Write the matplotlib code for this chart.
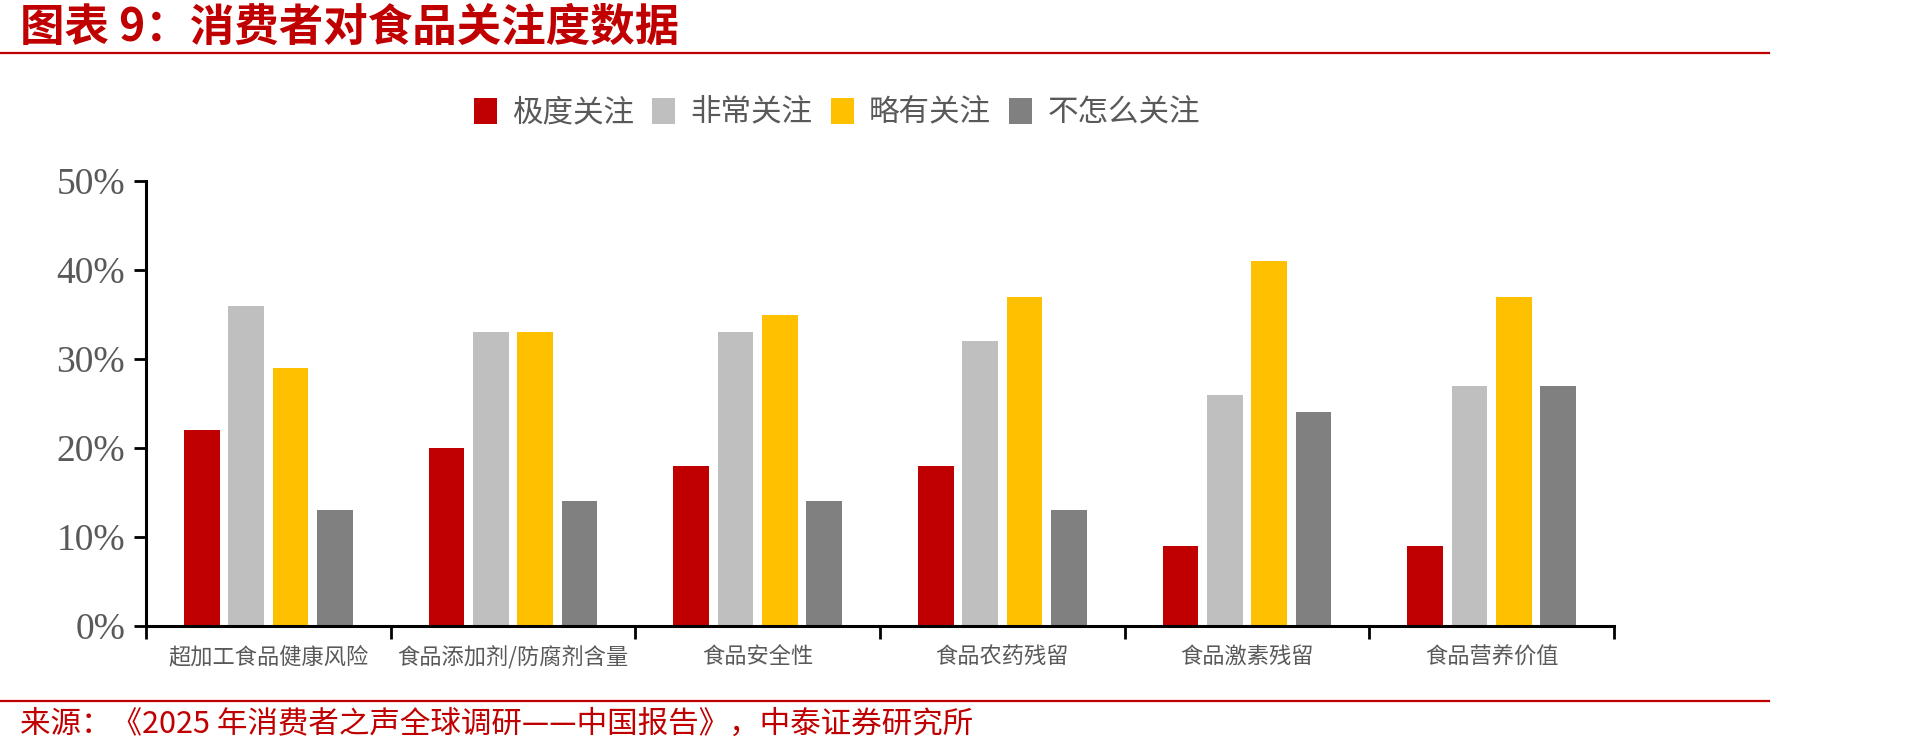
import numpy as np
import matplotlib
matplotlib.use('Agg')
from matplotlib import pyplot as plt
from matplotlib.lines import Line2D
from matplotlib.patches import Patch

plt.rcParams['font.family'] = ['Noto Sans CJK SC', 'DejaVu Sans']

categories = ['超加工食品健康风险', '食品添加剂/防腐剂含量', '食品安全性',
              '食品农药残留', '食品激素残留', '食品营养价值']
series_names = ['极度关注', '非常关注', '略有关注', '不怎么关注']
extreme = [22, 20, 18, 18, 9, 9]
very = [36, 33, 33, 32, 26, 27]
somewhat = [29, 33, 35, 37, 41, 37]
notmuch = [13, 14, 14, 13, 24, 27]
yticks = [0, 10, 20, 30, 40, 50]

colors = ['#C00000', '#BFBFBF', '#FFC000', '#808080']
red = '#C00000'
grey_text = '#595959'

fig = plt.figure(figsize=(19.26, 7.54), dpi=100)
ax = fig.add_axes([146 / 1926, 1 - 626 / 754, (1614 - 146) / 1926, (626 - 181) / 754])

x = np.arange(len(categories)) + 0.5
width = 0.146
pitch = 0.181
data = [extreme, very, somewhat, notmuch]
for i, (vals, c) in enumerate(zip(data, colors)):
    ax.bar(x + (i - 1.5) * pitch, vals, width=width, color=c)

ax.set_xlim(0, len(categories))
ax.set_ylim(0, 50)
ax.set_yticks(yticks)
ax.set_yticklabels([f'{v}%' for v in yticks], family='Liberation Serif',
                   fontsize=27, color=grey_text)
ax.set_xticks(np.arange(len(categories) + 1))
ax.set_xticklabels([])
ax.set_xticks(x, minor=True)
ax.set_xticklabels(categories, minor=True, fontsize=16, color=grey_text)
ax.tick_params(axis='x', which='minor', length=0, pad=14)
ax.tick_params(axis='both', which='major', length=9, width=2, color='black', direction='out')
ax.tick_params(axis='y', pad=6)

for s in ['top', 'right']:
    ax.spines[s].set_visible(False)
for s in ['left', 'bottom']:
    ax.spines[s].set_linewidth(2.2)
    ax.spines[s].set_color('black')

handles = [Patch(facecolor=c, edgecolor='none') for c in colors]
fig.legend(handles, series_names, loc='center', bbox_to_anchor=(0.4345, 0.850), ncol=4,
           frameon=False, fontsize=22, labelcolor=grey_text, handlelength=0.75,
           handleheight=0.9, handletextpad=0.5, columnspacing=0.6)

# title and source
fig.text(20 / 1926, 1 - 28 / 754, '图表 9：消费者对食品关注度数据', fontsize=32,
         fontweight='bold', color=red, va='center', ha='left', style='italic')
fig.add_artist(Line2D([0, 1769 / 1926], [1 - 53 / 754] * 2, color=red, lw=1.6,
                      transform=fig.transFigure))
fig.add_artist(Line2D([0, 1769 / 1926], [1 - 701 / 754] * 2, color=red, lw=1.6,
                      transform=fig.transFigure))
fig.text(20 / 1926, 1 - 724 / 754, '来源：《2025 年消费者之声全球调研——中国报告》，中泰证券研究所',
         fontsize=22, color=red, va='center', ha='left')

fig.savefig('out.png', dpi=100, facecolor='white')
